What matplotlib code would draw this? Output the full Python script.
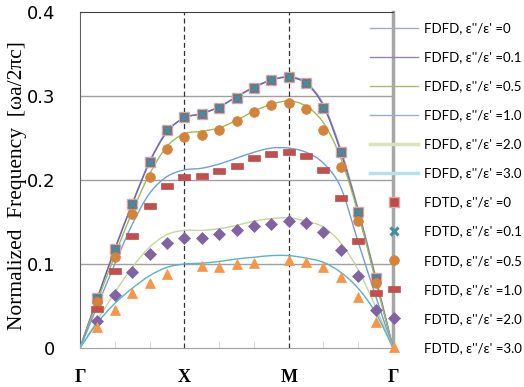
import numpy as np
import matplotlib
matplotlib.use("Agg")
import matplotlib.pyplot as plt
from matplotlib.path import Path
from matplotlib.patches import PathPatch
from matplotlib.lines import Line2D

# ---------------- data ----------------
sym_labels = ["Γ", "X", "M", "Γ"]
sym_pos = [0, 3, 6, 9]

# FDFD curves sampled at half-steps 0, 0.5, ..., 9
fdfd_pos = [i / 2 for i in range(19)]
fdfd_00 = [0, 0.060, 0.118, 0.172, 0.222, 0.258, 0.274, 0.279, 0.287, 0.299, 0.311, 0.319, 0.323, 0.316, 0.290, 0.236, 0.165, 0.085, 0]
fdfd_01 = [0, 0.059, 0.117, 0.171, 0.221, 0.257, 0.274, 0.279, 0.287, 0.299, 0.310, 0.319, 0.322, 0.315, 0.288, 0.233, 0.162, 0.082, 0]
fdfd_05 = [0, 0.056, 0.110, 0.162, 0.207, 0.240, 0.255, 0.258, 0.262, 0.271, 0.282, 0.290, 0.294, 0.288, 0.268, 0.226, 0.160, 0.080, 0]
fdfd_10 = [0, 0.050, 0.100, 0.147, 0.184, 0.204, 0.212, 0.214, 0.219, 0.226, 0.233, 0.238, 0.238, 0.233, 0.220, 0.191, 0.126, 0.062, 0]
fdfd_20 = [0, 0.033, 0.066, 0.096, 0.120, 0.135, 0.140, 0.140, 0.142, 0.146, 0.151, 0.154, 0.155, 0.151, 0.144, 0.125, 0.093, 0.049, 0]
fdfd_30 = [0, 0.030, 0.053, 0.071, 0.086, 0.096, 0.100, 0.101, 0.103, 0.106, 0.108, 0.110, 0.110, 0.107, 0.102, 0.090, 0.071, 0.042, 0]

# FDTD points at half-steps 0.5 ... 8.5
fdtd_pos = [i / 2 for i in range(1, 18)]
nan = float("nan")
fdtd_00 = [0.060, 0.118, 0.171, 0.221, 0.260, 0.275, 0.279, 0.286, 0.298, 0.310, 0.319, 0.323, 0.315, 0.286, 0.233, 0.162, 0.083]
fdtd_01 = [0.060, 0.118, 0.171, 0.221, 0.260, 0.275, 0.279, 0.286, 0.298, 0.310, 0.319, 0.323, 0.315, 0.286, 0.233, 0.162, 0.083]
fdtd_05 = [0.055, 0.108, 0.160, 0.204, 0.237, 0.251, 0.254, 0.260, 0.270, 0.281, 0.289, 0.292, 0.284, 0.260, 0.215, 0.151, 0.077]
fdtd_10 = [0.046, 0.092, 0.133, 0.169, 0.193, 0.204, 0.205, 0.211, 0.217, 0.226, 0.231, 0.233, 0.229, 0.212, 0.179, 0.127, 0.065]
fdtd_20 = [0.032, 0.063, 0.090, 0.112, 0.125, 0.131, 0.131, 0.136, 0.140, 0.145, 0.148, 0.151, 0.149, 0.138, 0.117, 0.086, 0.045]
fdtd_30 = [0.025, 0.045, 0.065, 0.077, 0.088, nan, 0.098, 0.096, 0.100, 0.101, nan, 0.105, 0.102, 0.096, 0.085, 0.061, 0.031]

fdfd_labels = ["FDFD, ε''/ε' =0", "FDFD, ε''/ε' =0.1", "FDFD, ε''/ε' =0.5",
               "FDFD, ε''/ε' =1.0", "FDFD, ε''/ε' =2.0", "FDFD, ε''/ε' =3.0"]
fdtd_labels = ["FDTD, ε''/ε' =0", "FDTD, ε''/ε' =0.1", "FDTD, ε''/ε' =0.5",
               "FDTD, ε''/ε' =1.0", "FDTD, ε''/ε' =2.0", "FDTD, ε''/ε' =3.0"]

# ---------------- style ----------------
line_colors = ["#8c9ac4", "#7a62a6", "#9bbb59", "#6f9fd8", "#c3d69b", "#55b4cc"]
legend_line_colors = ["#a4acc8", "#9a80b8", "#a8b878", "#90b0dc", "#d8e4bc", "#b8e0e8"]
legend_line_widths = [1.0, 1.0, 1.0, 1.0, 2.5, 2.5]

W, H = 524, 387
fig = plt.figure(figsize=(W / 100, H / 100), dpi=100)
ax = fig.add_axes([80 / W, 1 - 348 / H, (393 - 80) / W, (348 - 12) / H])


def smooth_path(xs, ys):
    """Excel-like smoothed line: cubic Bezier through the points."""
    pts = np.column_stack([xs, ys]).astype(float)
    n = len(pts)
    verts = [pts[0]]
    codes = [Path.MOVETO]
    for i in range(n - 1):
        p0 = pts[i - 1] if i > 0 else pts[i]
        p1 = pts[i]
        p2 = pts[i + 1]
        p3 = pts[i + 2] if i + 2 < n else pts[i + 1]
        c1 = p1 + (p2 - p0) / 6.0
        c2 = p2 - (p3 - p1) / 6.0
        verts += [c1, c2, p2]
        codes += [Path.CURVE4] * 3
    return Path(np.array(verts), codes)


series_fdfd = [fdfd_00, fdfd_01, fdfd_05, fdfd_10, fdfd_20, fdfd_30]
for vals, col in zip(series_fdfd, line_colors):
    patch = PathPatch(smooth_path(fdfd_pos, vals), facecolor="none",
                      edgecolor=col, lw=1.0, zorder=3, transform=ax.transData)
    ax.add_patch(patch)

# dash marker (wide rectangle)
dash_marker = Path([(-1, -0.5), (1, -0.5), (1, 0.5), (-1, 0.5), (-1, -0.5)],
                   [Path.MOVETO, Path.LINETO, Path.LINETO, Path.LINETO, Path.CLOSEPOLY])

marker_styles = [
    dict(marker="s", ms=7.2, mfc="#bd4b48", mec="#e0a8a6", mew=1.0),
    dict(marker="x", ms=6.0, mfc="#3c90a6", mec="#3c90a6", mew=2.2),
    dict(marker="o", ms=7.0, mfc="#d4843a", mec="#d4843a", mew=0.5),
    dict(marker=dash_marker, ms=8.5, mfc="#c0504d", mec="#c0504d", mew=0.5),
    dict(marker="D", ms=6.0, mfc="#8064a2", mec="#8064a2", mew=0.5),
    dict(marker="^", ms=7.5, mfc="#f79646", mec="#f79646", mew=0.5),
]
series_fdtd = [fdtd_00, fdtd_01, fdtd_05, fdtd_10, fdtd_20, fdtd_30]
for vals, st in zip(series_fdtd, marker_styles):
    ax.plot(fdtd_pos, vals, ls="none", zorder=4, **st)

# axes
ax.set_xlim(0, 9)
ax.set_ylim(0, 0.4)
ax.set_yticks([0, 0.1, 0.2, 0.3, 0.4])
ax.set_yticklabels(["0", "0.1", "0.2", "0.3", "0.4"], fontsize=13, family="DejaVu Sans")
ax.set_xticks(sym_pos)
ax.set_xticklabels(sym_labels, fontsize=13, family="Liberation Serif", fontweight="bold")
ax.set_xticks(range(10), minor=True)
ax.tick_params(axis="y", length=0, pad=18)
ax.tick_params(axis="x", which="major", length=0, pad=15)
ax.tick_params(axis="x", which="minor", direction="in", length=5, color="#d0d0d0")

for yv in [0.1, 0.2, 0.3]:
    ax.axhline(yv, color="#a0a0a0", lw=1.0, zorder=1)
for xv in [3, 6]:
    ax.axvline(xv, color="#303030", lw=0.9, ls=(0, (4, 2.5)), zorder=2)

ax.spines["left"].set_color("#606060")
ax.spines["top"].set_color("#404040")
ax.spines["bottom"].set_color("#a0a0a0")
ax.spines["right"].set_color("#a6a6a6")
ax.spines["right"].set_linewidth(2.5)
for s in ax.spines.values():
    s.set_zorder(2)

fig.text(18 / W, 1 - 186 / H, "Normalized  Frequency  [ωa/2πc]", rotation=90,
         ha="center", va="center", fontsize=15.5, family="Liberation Serif")

# legend
handles = []
for c, lw in zip(legend_line_colors, legend_line_widths):
    handles.append(Line2D([], [], color=c, lw=lw))
for st in marker_styles:
    handles.append(Line2D([], [], ls="none", **st))
labels = fdfd_labels + fdtd_labels
leg = ax.legend(handles, labels, loc="upper left", bbox_to_anchor=(370 / W, 1 - 22.5 / H),
                bbox_transform=fig.transFigure, frameon=False,
                prop={"family": "Lato", "size": 9.5}, borderpad=0, borderaxespad=0,
                handlelength=3.64, handletextpad=0.45, labelspacing=1.29, numpoints=1)
leg.set_zorder(5)

fig.savefig("out.png", dpi=100)
